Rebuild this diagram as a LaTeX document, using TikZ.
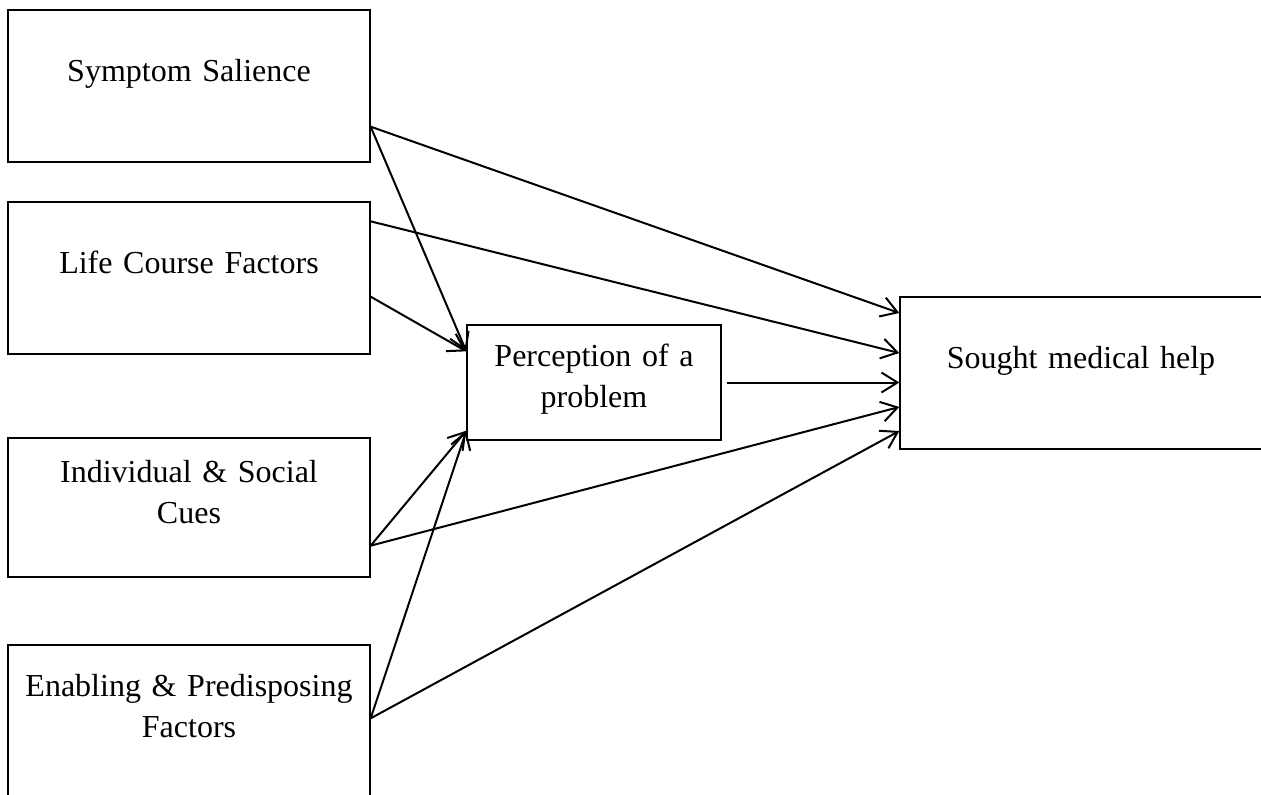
\documentclass[tikz,border=0pt]{standalone}
\usepackage{fontspec}
\setmainfont{Liberation Serif}
\usetikzlibrary{arrows.meta}
\usetikzlibrary{calc}

\begin{document}
\begin{tikzpicture}[x=0.375pt,y=-0.375pt,
    box/.style={draw, line width=0.5pt, inner sep=0pt, minimum width=135.75pt, minimum height=57pt},
    lbl/.style={anchor=base, text width=130pt, align=center, inner sep=0pt, font=\fontsize{12}{15.6}\selectfont},
    arr/.style={line width=0.75pt, -{Straight Barb[length=6pt,width=7.5pt]}}]
  \useasboundingbox (0,0) rectangle (1261,795);
  % factors on the left
  \node[box] (sym) at (189,86) {};
  \node[box] (life) at (189,278) {};
  \node[box, minimum height=52.125pt] (ind) at (189,507.5) {};
  \node[box] (ena) at (189,721) {};
  \node[lbl] (symtxt) at (189,82) {Symptom Salience};
  \node[lbl] (lifetxt) at (189,273) {Life Course Factors};
  \node[lbl] (indtxt) at (189,482) {Individual \& Social\\Cues};
  \node[lbl] (enatxt) at (189,696) {Enabling \& Predisposing\\Factors};
  % middle and outcome
  \node[box, minimum width=95.25pt, minimum height=43.125pt] (perc) at (594,382.5) {};
  \node[lbl, text width=90pt] (perctxt) at (594,366) {Perception of a\\problem};
  \node[box] (sought) at (1081,373) {};
  \node[lbl] (soughttxt) at (1081,368) {Sought medical help};
  % arrows
  \draw[arr] ($(sym.south east)+(0,-36)$) -- ($(sought.west)+(0,-60)$);
  \draw[arr] ($(sym.south east)+(0,-36)$) -- ($(perc.north west)+(0,27)$);
  \draw[arr] ($(life.north east)+(0,20)$) -- ($(sought.west)+(0,-20)$);
  \draw[arr] ($(life.south east)+(0,-58)$) -- ($(perc.north west)+(0,27)$);
  \draw[arr] ($(perc.east)+(5,0)$) -- (perc.east -| sought.west);
  \draw[arr] ($(ind.south east)+(0,-32)$) -- ($(perc.south west)+(0,-10)$);
  \draw[arr] ($(ind.south east)+(0,-32)$) -- ($(sought.west)+(0,34)$);
  \draw[arr] ($(ena.north east)+(0,74)$) -- ($(perc.south west)+(0,-10)$);
  \draw[arr] ($(ena.north east)+(0,74)$) -- ($(sought.west)+(0,58)$);
\end{tikzpicture}
\end{document}
